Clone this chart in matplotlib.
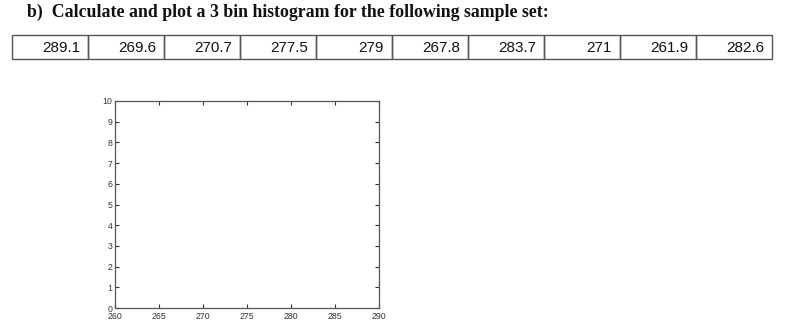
import matplotlib
matplotlib.use("Agg")
import matplotlib.pyplot as plt
from matplotlib.patches import Rectangle

title = "b)  Calculate and plot a 3 bin histogram for the following sample set:"
samples = ["289.1", "269.6", "270.7", "277.5", "279", "267.8", "283.7", "271", "261.9", "282.6"]
x_ticks = [260, 265, 270, 275, 280, 285, 290]
y_ticks = [0, 1, 2, 3, 4, 5, 6, 7, 8, 9, 10]

W, H = 800, 329
fig = plt.figure(figsize=(8, 3.29), dpi=100)

# title line
fig.text(27 / W, 1 - 12 / H, title, family="Liberation Serif", fontsize=12.8,
         weight="bold", va="center", ha="left", color="#111111")

# sample table drawn in figure pixel space
tab = fig.add_axes([0, 0, 1, 1])
tab.set_xlim(0, W)
tab.set_ylim(H, 0)
tab.axis("off")
x0, top, bot = 12, 34.5, 59
cw = 76
for i, s in enumerate(samples):
    tab.add_patch(Rectangle((x0 + i * cw, top), cw, bot - top, fill=False,
                            edgecolor="#555555", linewidth=1.0))
    tab.text(x0 + (i + 1) * cw - 8, (top + bot) / 2 + 1, s, ha="right", va="center",
             family="Liberation Sans", fontsize=11, color="#111111")

# empty histogram axes (MATLAB style)
ax = fig.add_axes([115 / W, 1 - 308 / H, (379 - 115) / W, (308 - 101) / H])
ax.set_xlim(260, 290)
ax.set_ylim(0, 10)
ax.set_xticks(x_ticks)
ax.set_yticks(y_ticks)
ax.tick_params(direction="in", top=True, right=True, length=3, width=0.8,
               labelsize=6.3, colors="#333333")
ax.tick_params(axis="x", pad=3)
ax.tick_params(axis="y", pad=2)
for sp in ax.spines.values():
    sp.set_color("#555555")
    sp.set_linewidth(0.9)
for lab in ax.get_xticklabels() + ax.get_yticklabels():
    lab.set_family("Liberation Sans")

fig.savefig("out.png", dpi=100)
